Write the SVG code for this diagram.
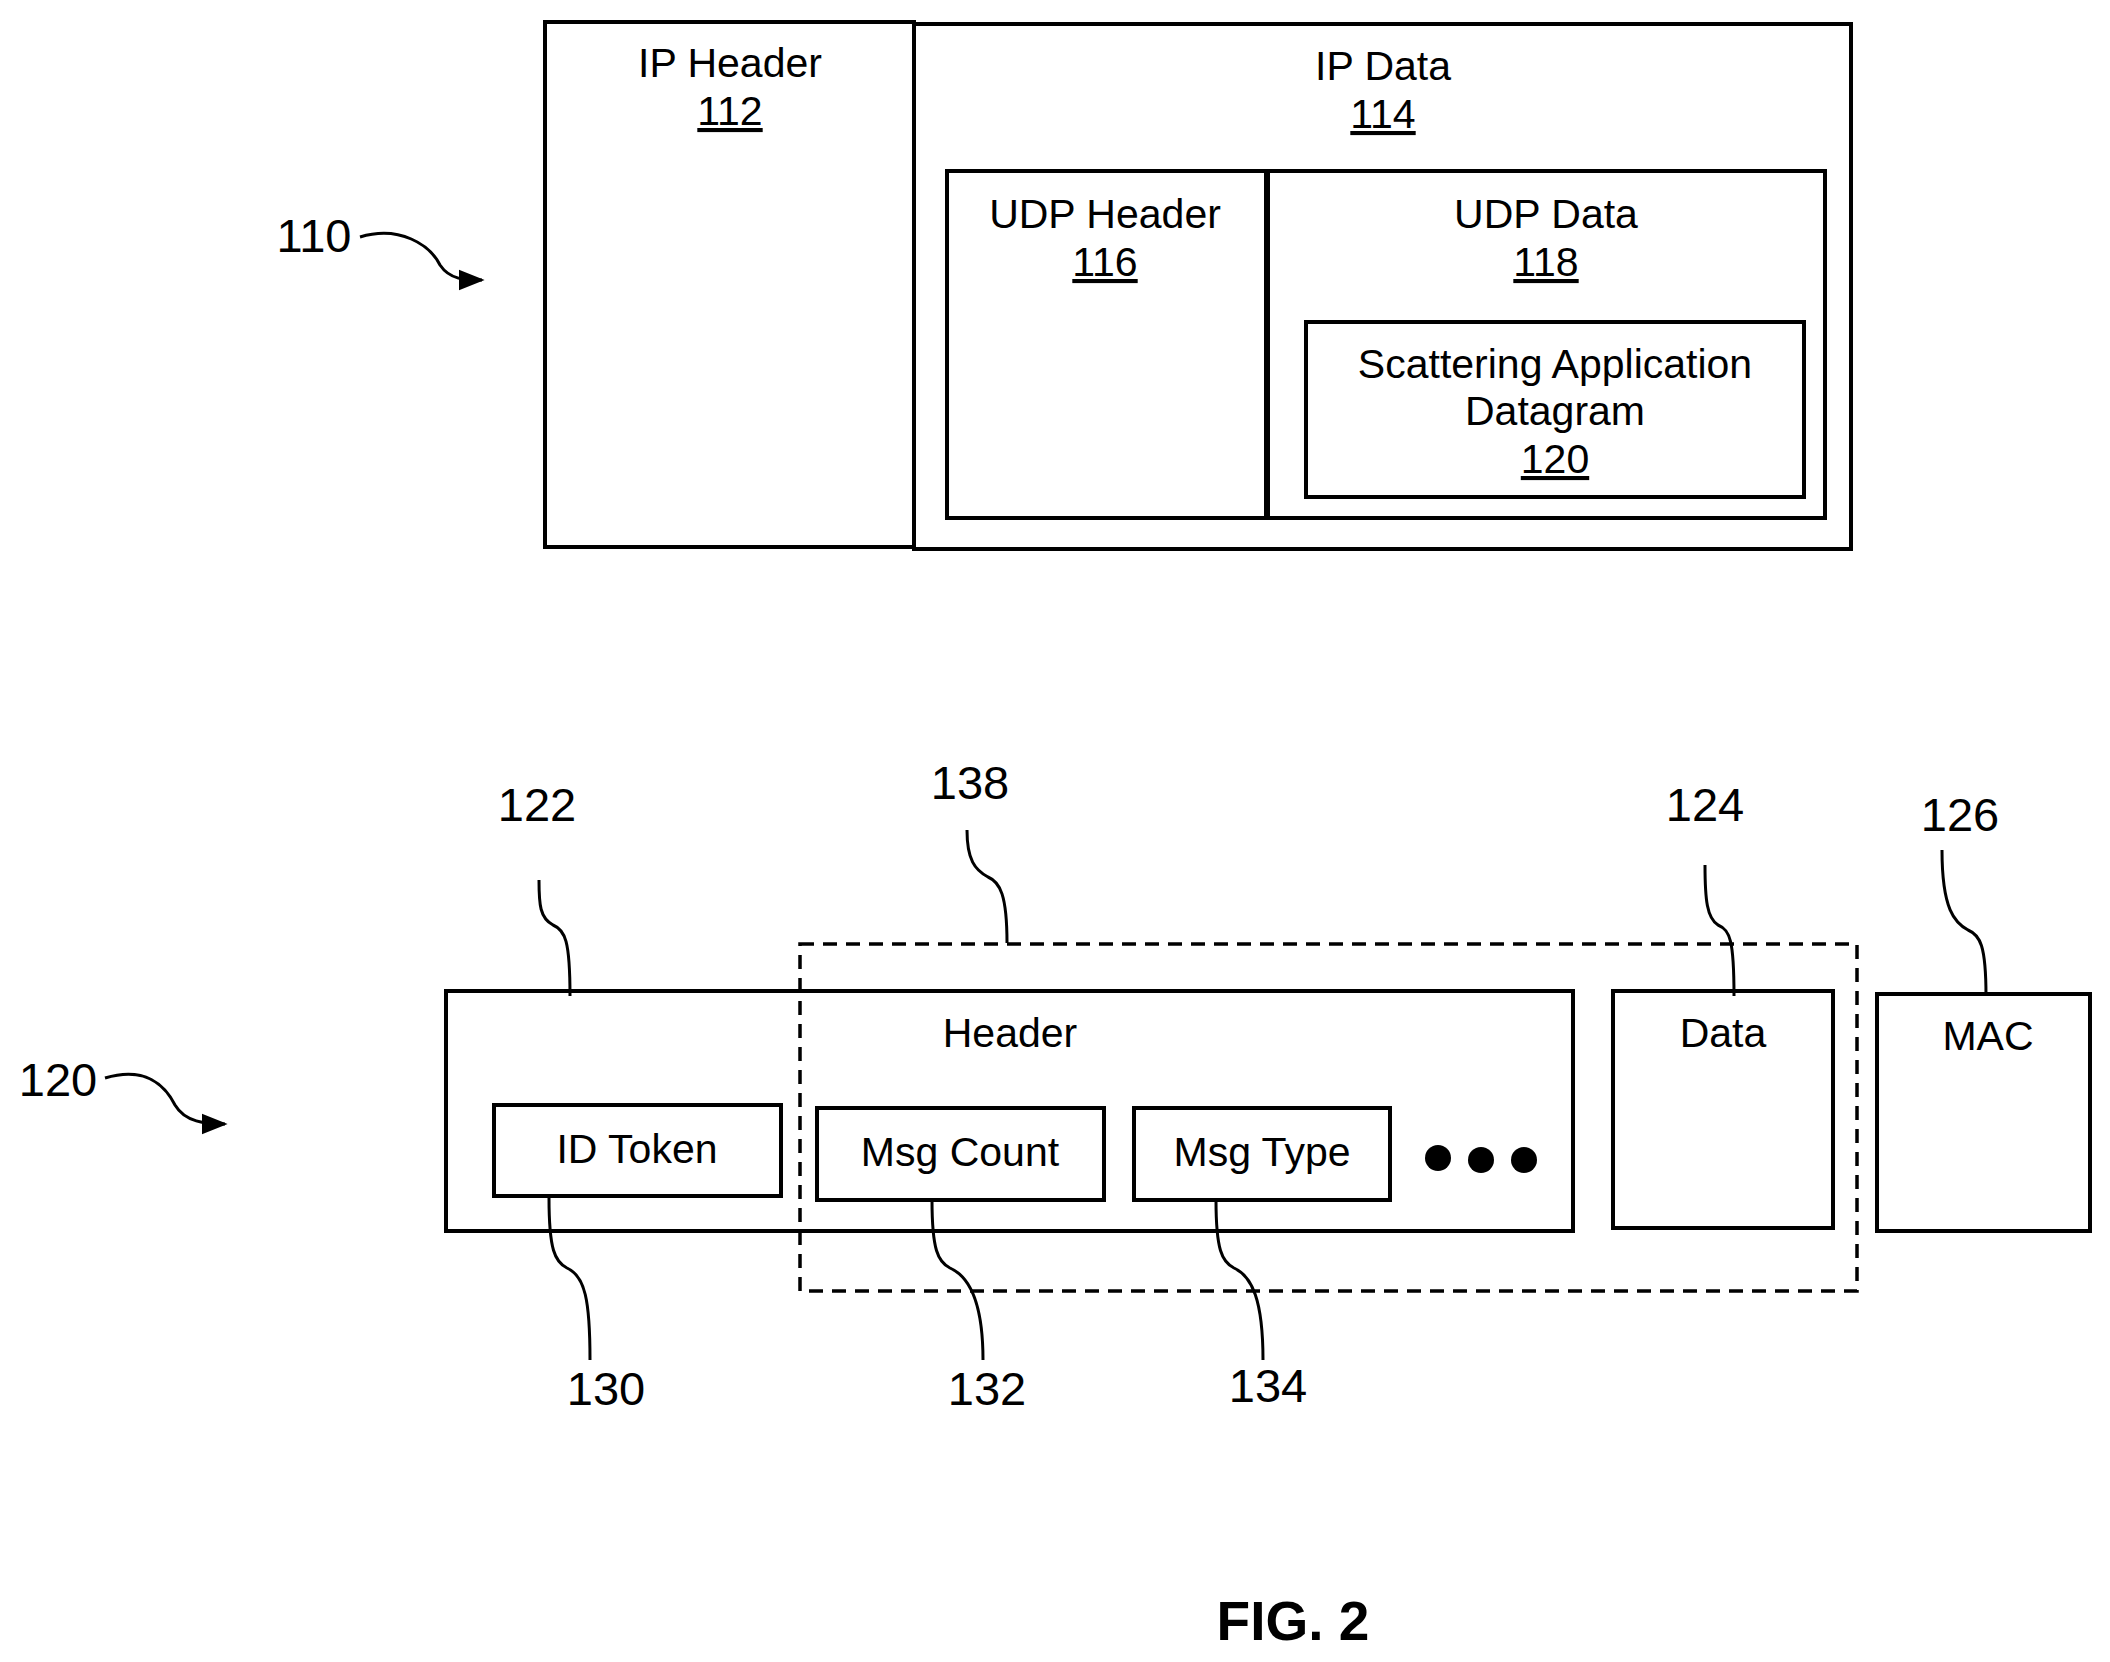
<svg xmlns="http://www.w3.org/2000/svg" width="2110" height="1662" viewBox="0 0 2110 1662">
<style>
.b{fill:none;stroke:#000;stroke-width:4}
.t{font-family:"Liberation Sans",Arial,sans-serif;font-size:41px;text-anchor:middle;fill:#000}
.n{font-family:"Liberation Sans",Arial,sans-serif;font-size:47px;text-anchor:middle;fill:#000}
.l{fill:none;stroke:#000;stroke-width:3}
</style>
<defs>
<marker id="a2" viewBox="0 0 10 10" refX="9" refY="5" markerWidth="26" markerHeight="26" orient="auto" markerUnits="userSpaceOnUse"><path d="M0,1 L10,5 L0,9 z" fill="#000"/></marker></defs>
<rect width="2110" height="1662" fill="#fff"/>
<g id="ipheader"><rect class="b" x="545" y="22" width="369" height="525"/><text class="t" x="730" y="77">IP Header</text><text class="t" x="730" y="125" text-decoration="underline">112</text></g>
<g id="ipdata"><rect class="b" x="914" y="24" width="937" height="525"/><text class="t" x="1383" y="80">IP Data</text><text class="t" x="1383" y="128" text-decoration="underline">114</text></g>
<g id="udpheader"><rect class="b" x="947" y="171" width="320" height="347"/><text class="t" x="1105" y="228">UDP Header</text><text class="t" x="1105" y="276" text-decoration="underline">116</text></g>
<g id="udpdata"><rect class="b" x="1267" y="171" width="558" height="347"/><line x1="1267" y1="171" x2="1267" y2="518" stroke="#000" stroke-width="6"/><text class="t" x="1546" y="228">UDP Data</text><text class="t" x="1546" y="276" text-decoration="underline">118</text></g>
<g id="sad"><rect class="b" x="1306" y="322" width="498" height="175"/><text class="t" x="1555" y="378">Scattering Application</text><text class="t" x="1555" y="425">Datagram</text><text class="t" x="1555" y="473" text-decoration="underline">120</text></g>
<g id="header"><rect class="b" x="446" y="991" width="1127" height="240"/><text class="t" x="1010" y="1047">Header</text></g>
<g id="idtoken"><rect class="b" x="494" y="1105" width="287" height="91"/><text class="t" x="637" y="1163">ID Token</text></g>
<g id="msgcount"><rect class="b" x="817" y="1108" width="287" height="92"/><text class="t" x="960" y="1166">Msg Count</text></g>
<g id="msgtype"><rect class="b" x="1134" y="1108" width="256" height="92"/><text class="t" x="1262" y="1166">Msg Type</text></g>
<g id="dots"><circle cx="1438" cy="1158" r="13"/><circle cx="1481" cy="1160" r="13"/><circle cx="1524" cy="1160" r="13"/></g>
<g id="data"><rect class="b" x="1613" y="991" width="220" height="237"/><text class="t" x="1723" y="1047">Data</text></g>
<g id="mac"><rect class="b" x="1877" y="994" width="213" height="237"/><text class="t" x="1988" y="1050">MAC</text></g>
<g id="group138"><rect x="800" y="944" width="1057" height="347" fill="none" stroke="#000" stroke-width="3.5" stroke-dasharray="14,9"/></g>
<g id="labels">
<text class="n" x="314" y="252">110</text><text class="n" x="58" y="1096">120</text>
<text class="n" x="537" y="821">122</text><text class="n" x="970" y="799">138</text><text class="n" x="1705" y="821">124</text><text class="n" x="1960" y="831">126</text>
<text class="n" x="606" y="1405">130</text><text class="n" x="987" y="1405">132</text><text class="n" x="1268" y="1402">134</text>
<text x="1293" y="1640" font-family="Liberation Sans,Arial,sans-serif" font-size="55" font-weight="bold" text-anchor="middle">FIG. 2</text>
</g>
<g id="connectors">
<path class="l" d="M360,237 C400,225 430,245 440,265 C450,280 465,280 482,280" marker-end="url(#a2)"/>
<path class="l" d="M105,1078 C145,1066 165,1085 175,1105 C185,1122 205,1124 225,1124" marker-end="url(#a2)"/>
<path class="l" d="M570,996 C570,940 565,930 553,925 C540,918 539,905 539,880"/>
<path class="l" d="M1007,943 C1007,895 1000,882 988,877 C975,870 967,860 967,830"/>
<path class="l" d="M1734,996 C1734,940 1730,930 1718,925 C1707,918 1705,900 1705,865"/>
<path class="l" d="M1986,996 C1986,945 1980,935 1968,930 C1955,923 1942,910 1942,850"/>
<path class="l" d="M549,1198 C549,1250 555,1262 567,1268 C585,1276 590,1300 590,1360"/>
<path class="l" d="M932,1200 C932,1250 938,1262 950,1268 C968,1276 983,1300 983,1360"/>
<path class="l" d="M1216,1200 C1216,1250 1222,1262 1234,1268 C1252,1276 1263,1300 1263,1360"/>
</g>
</svg>
